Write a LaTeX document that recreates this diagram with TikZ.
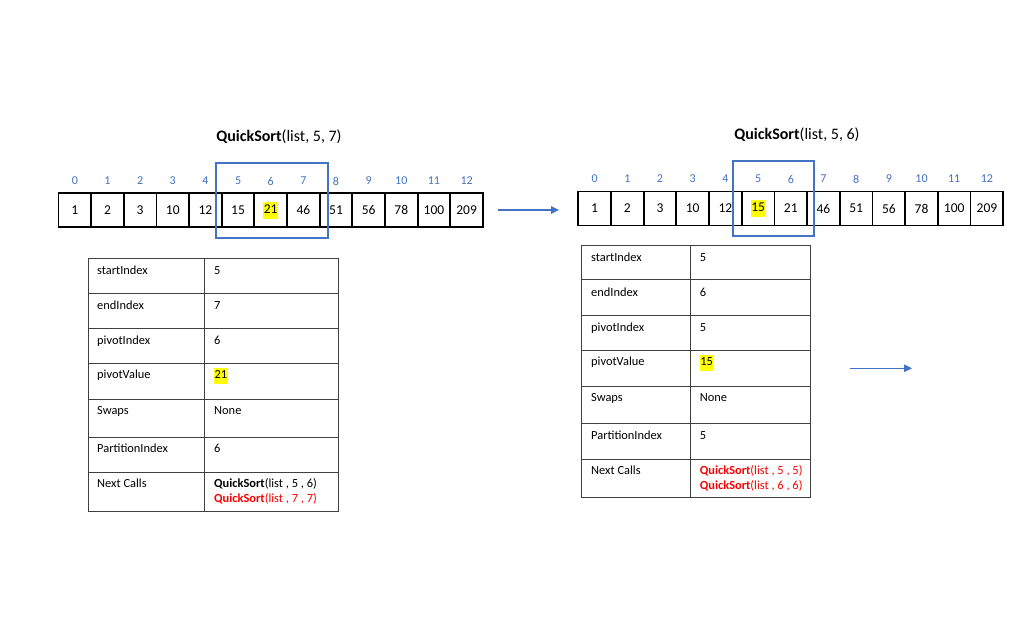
\documentclass[tikz,border=0pt]{standalone}
\usepackage{fontspec}
\setmainfont{Carlito}
\usetikzlibrary{arrows.meta}
\definecolor{msblue}{HTML}{4472C4}
\definecolor{tblline}{HTML}{404040}
\definecolor{hlyellow}{HTML}{FFFF00}
\definecolor{msred}{HTML}{FF0000}
\newcommand\hlbox[1]{{\setlength{\fboxsep}{0.4pt}\colorbox{hlyellow}{\strut #1}}}
\begin{document}
\begin{tikzpicture}[x=1pt,y=-1pt,
  cell/.style={draw=black, line width=1.8pt, minimum width=32.7pt, minimum height=34pt, inner sep=0pt, font=\fontsize{13.5}{16.2}\selectfont},
  idx/.style={text=msblue, inner sep=0pt, font=\fontsize{12}{14}\selectfont},
  title/.style={inner sep=0pt, font=\fontsize{16}{19}\selectfont},
  rangebox/.style={draw=msblue, line width=1.8pt},
  tline/.style={draw=tblline, line width=0.9pt},
  ttext/.style={anchor=west, inner sep=0pt, text height=8.5pt, text depth=2.5pt, font=\fontsize{12.4}{14.8}\selectfont},
  flow/.style={draw=msblue, line width=1.2pt, -{Triangle[length=8pt,width=7.5pt]}}]
\useasboundingbox[fill=white] (0,0) rectangle (1021,643);

% ---------- left array ----------
\node[title] (T1) at (279,136.5) {\textbf{QuickSort}(list, 5, 7)};
\foreach \v [count=\i from 0] in {1,2,3,10,12,15,\hlbox{21},46,51,56,78,100,209}{
  \node[cell] (A\i) at ({58.5+(\i+0.5)*32.65},210) {\v};
  \node[idx] (Ai\i) at ({58.5+(\i+0.5)*32.65},181) {\i};
}
\draw[rangebox] (216,163) rectangle (328,238);

% ---------- right array ----------
\node[title] (T2) at (797,135) {\textbf{QuickSort}(list, 5, 6)};
\foreach \v [count=\i from 0] in {1,2,3,10,12,\hlbox{15},21,46,51,56,78,100,209}{
  \node[cell] (B\i) at ({578.3+(\i+0.5)*32.69},208.5) {\v};
  \node[idx] (Bi\i) at ({578.3+(\i+0.5)*32.69},179) {\i};
}
\draw[rangebox] (733,161) rectangle (814,236);

% ---------- arrows ----------
\coordinate (F1s) at (498,210);
\coordinate (F1e) at (559,210);
\draw[flow] (F1s) -- (F1e);
\coordinate (F2s) at (850,368.3);
\coordinate (F2e) at (912,368.3);
\draw[flow] (F2s) -- (F2e);

% ---------- left table ----------
\draw[tline] (88,258) rectangle (338,511);
\draw[tline] (204,258) -- (204,511);
\foreach \y in {293,328,363,399,437,472} \draw[tline] (88,\y) -- (338,\y);
\foreach \lab/\val/\y [count=\k] in {startIndex/5/271,endIndex/7/306.7,pivotIndex/6/341.7,pivotValue/\hlbox{21}/375.7,Swaps/None/411,PartitionIndex/6/449}{
  \node[ttext] (Lk\k) at (97,\y) {\lab};
  \node[ttext] (Lv\k) at (214,\y) {\val};
}
\node[ttext] (Lk7) at (97,484) {Next Calls};
\node[ttext] (Lv7a) at (214,484) {\textbf{QuickSort}(list , 5 , 6)};
\node[ttext, text=msred] (Lv7b) at (214,499) {\textbf{QuickSort}(list , 7 , 7)};

% ---------- right table ----------
\draw[tline] (581,245.3) rectangle (810,497);
\draw[tline] (690,245.3) -- (690,497);
\foreach \y in {279.7,315.3,350.3,386,423.7,459.3} \draw[tline] (581,\y) -- (810,\y);
\foreach \lab/\val/\y [count=\k] in {startIndex/5/258,endIndex/6/293.7,pivotIndex/5/328.7,pivotValue/\hlbox{15}/362.7,Swaps/None/398,PartitionIndex/5/436}{
  \node[ttext] (Rk\k) at (591,\y) {\lab};
  \node[ttext] (Rv\k) at (699.7,\y) {\val};
}
\node[ttext] (Rk7) at (591,471.3) {Next Calls};
\node[ttext, text=msred] (Rv7a) at (699.7,471.3) {\textbf{QuickSort}(list , 5 , 5)};
\node[ttext, text=msred] (Rv7b) at (699.7,486.3) {\textbf{QuickSort}(list , 6 , 6)};
\end{tikzpicture}
\end{document}
